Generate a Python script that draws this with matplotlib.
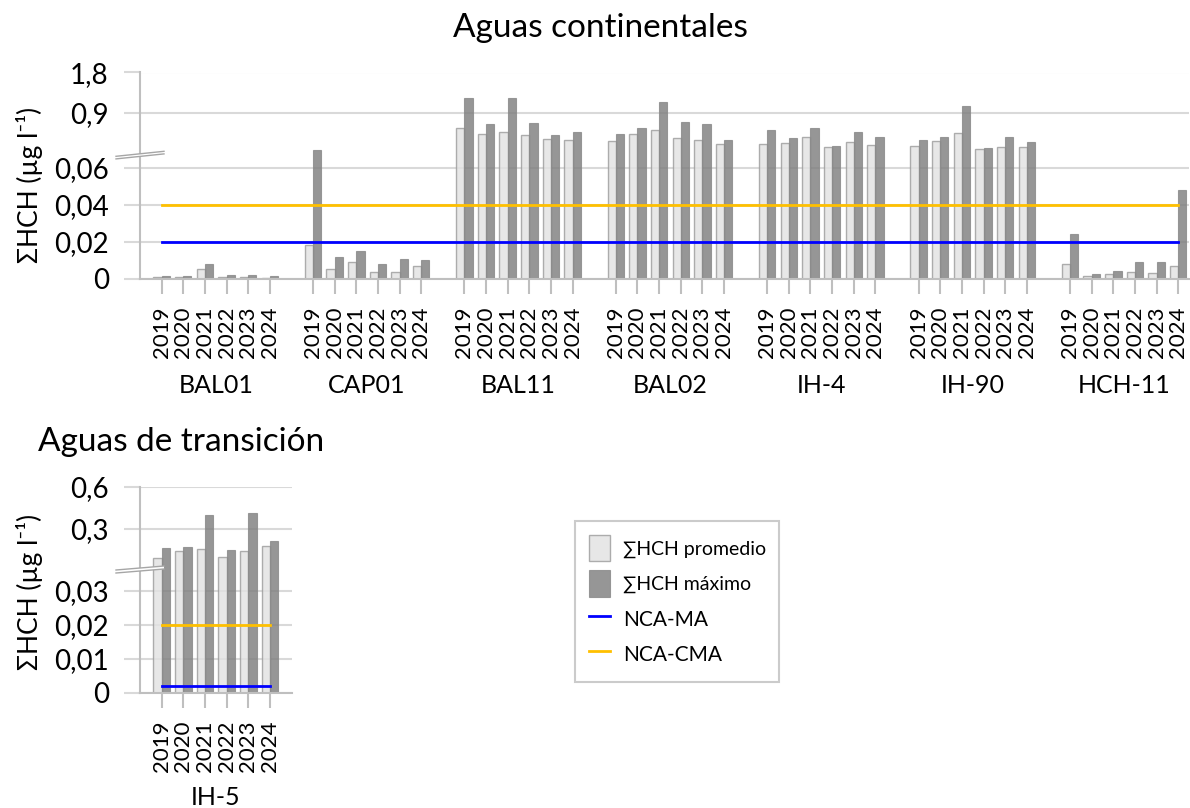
import numpy as np
import matplotlib
matplotlib.use('Agg')
import matplotlib.pyplot as plt
from matplotlib.patches import Patch, Polygon
from matplotlib.lines import Line2D

plt.rcParams['font.family'] = ['Lato', 'DejaVu Sans']

# ---------------- data ----------------
years = ['2019', '2020', '2021', '2022', '2023', '2024']

stations_cont = ['BAL01', 'CAP01', 'BAL11', 'BAL02', 'IH-4', 'IH-90', 'HCH-11']
prom_BAL01 = [0.0008, 0.0008, 0.0054, 0.0007, 0.0008, 0.0005]
max_BAL01 = [0.0015, 0.0015, 0.0078, 0.0018, 0.0018, 0.0015]
prom_CAP01 = [0.0182, 0.0050, 0.0090, 0.0034, 0.0035, 0.0068]
max_CAP01 = [0.0695, 0.0115, 0.0148, 0.0076, 0.0108, 0.0101]
prom_BAL11 = [0.558, 0.431, 0.475, 0.402, 0.319, 0.297]
max_BAL11 = [1.228, 0.654, 1.228, 0.670, 0.402, 0.475]
prom_BAL02 = [0.268, 0.415, 0.513, 0.342, 0.283, 0.201]
max_BAL02 = [0.415, 0.549, 1.138, 0.699, 0.654, 0.283]
prom_IH4 = [0.208, 0.230, 0.357, 0.141, 0.246, 0.179]
max_IH4 = [0.513, 0.342, 0.565, 0.163, 0.475, 0.357]
prom_IH90 = [0.163, 0.275, 0.446, 0.080, 0.134, 0.134]
max_IH90 = [0.290, 0.364, 1.049, 0.112, 0.364, 0.252]
prom_HCH11 = [0.0081, 0.0015, 0.0022, 0.0034, 0.0031, 0.0070]
max_HCH11 = [0.0242, 0.0023, 0.0041, 0.0090, 0.0092, 0.0480]

prom_cont = [prom_BAL01, prom_CAP01, prom_BAL11, prom_BAL02, prom_IH4, prom_IH90, prom_HCH11]
max_cont = [max_BAL01, max_CAP01, max_BAL11, max_BAL02, max_IH4, max_IH90, max_HCH11]
nca_ma_cont = 0.02
nca_cma_cont = 0.04
yticks_cont = [0, 0.02, 0.04, 0.06, 0.9, 1.8]
yticklabels_cont = ['0', '0,02', '0,04', '0,06', '0,9', '1,8']

stations_trans = ['IH-5']
prom_IH5 = [0.097, 0.144, 0.160, 0.104, 0.142, 0.177]
max_IH5 = [0.163, 0.175, 0.397, 0.151, 0.411, 0.213]
nca_ma_trans = 0.002
nca_cma_trans = 0.02
yticks_trans = [0, 0.01, 0.02, 0.03, 0.3, 0.6]
yticklabels_trans = ['0', '0,01', '0,02', '0,03', '0,3', '0,6']

# ---------------- style ----------------
W, H = 1190, 808
C_AVG = '#e2e2e2'
C_MAX = '#7f7f7f'
C_EDGE_AVG = '#9a9a9a'
C_EDGE_MAX = '#8a8a8a'
C_GRID = '#d9d9d9'
C_AXIS = '#bfbfbf'
C_BLUE = '#0000ff'
C_GOLD = '#ffc000'
BAR_W = 0.38


def make_break_scale(lower_slope, upper_slope, upper_offset):
    b = upper_offset / (lower_slope - upper_slope)
    tb = lower_slope * b

    def fwd(v):
        v = np.asarray(v, dtype=float)
        return np.where(v <= b, v * lower_slope, upper_offset + upper_slope * v)

    def inv(t):
        t = np.asarray(t, dtype=float)
        return np.where(t <= tb, t / lower_slope, (t - upper_offset) / upper_slope)
    return fwd, inv


def px_axes(left, top, right, bottom):
    return [left / W, 1 - bottom / H, (right - left) / W, (bottom - top) / H]


def style_axes(ax, ymax, yticks, yticklabels):
    ax.set_ylim(0, ymax)
    ax.set_yticks(yticks)
    ax.set_yticklabels(yticklabels)
    ax.yaxis.grid(True, color=C_GRID, lw=1.5, zorder=0)
    ax.set_axisbelow(True)
    for s in ['top', 'right']:
        ax.spines[s].set_visible(False)
    for s in ['left', 'bottom']:
        ax.spines[s].set_color(C_AXIS)
        ax.spines[s].set_linewidth(1.5)
    ax.tick_params(axis='y', length=11.5, width=1.5, color=C_GRID, pad=11, labelsize=20)
    ax.tick_params(axis='x', length=11, width=1.5, color=C_AXIS, pad=9, labelsize=16,
                   labelrotation=90)


def draw_break(fig, x0, y0, x1, y1, gap):
    pts = [(x0, y0), (x1, y1), (x1, y1 + gap), (x0, y0 + gap)]
    fpts = [(x / W, 1 - y / H) for x, y in pts]
    fig.patches.append(Polygon(fpts, closed=True, transform=fig.transFigure,
                               facecolor='white', edgecolor='none', zorder=10))
    for (xa, ya), (xb, yb) in [(pts[0], pts[1]), (pts[3], pts[2])]:
        fig.lines.append(Line2D([xa / W, xb / W], [1 - ya / H, 1 - yb / H],
                                transform=fig.transFigure, color='#a6a6a6', lw=1.0, zorder=11))


fig = plt.figure(figsize=(W / 100, H / 100), dpi=100)

# ---------------- top panel ----------------
ax1 = fig.add_axes(px_axes(140, 72.5, 1189, 278.5))
fwd1, inv1 = make_break_scale(1850, 44.8, 125.7)
ax1.set_yscale('function', functions=(fwd1, inv1))

slot_x = []
for g, st in enumerate(stations_cont):
    xs = np.arange(len(years)) + 7 * g
    slot_x.extend(xs)
    ax1.bar(xs - BAR_W / 2, prom_cont[g], width=BAR_W, color=C_AVG, alpha=0.8,
            edgecolor=C_EDGE_AVG, linewidth=1.0, zorder=2)
    ax1.bar(xs + BAR_W / 2, max_cont[g], width=BAR_W, color=C_MAX, alpha=0.82,
            edgecolor=C_EDGE_MAX, linewidth=0.8, zorder=2)
slot_x = np.array(slot_x)
ax1.plot([slot_x[0], slot_x[-1]], [nca_ma_cont] * 2, color=C_BLUE, lw=2, zorder=4)
ax1.plot([slot_x[0], slot_x[-1]], [nca_cma_cont] * 2, color=C_GOLD, lw=2, zorder=4)
style_axes(ax1, 1.8, yticks_cont, yticklabels_cont)
ax1.set_xlim(-1, 47.5)
ax1.set_xticks(slot_x)
ax1.set_xticklabels(years * len(stations_cont))
for g, st in enumerate(stations_cont):
    ax1.text(7 * g + 2.5, -107 / 206, st, transform=ax1.get_xaxis_transform(),
             ha='center', va='center', fontsize=18)

fig.text(600 / W, 1 - 28 / H, 'Aguas continentales', ha='center', va='center', fontsize=24)
fig.text(30 / W, 1 - 185 / H, 'ΣHCH (µg l⁻¹)', rotation=90, ha='center', va='center',
         fontsize=19)
draw_break(fig, 116, 156.3, 164, 151.3, 2.6)

# ---------------- bottom panel ----------------
ax2 = fig.add_axes(px_axes(140, 486.7, 291.7, 692.7))
fwd2, inv2 = make_break_scale(3400, 141, 121.4)
ax2.set_yscale('function', functions=(fwd2, inv2))
xs2 = np.arange(len(years))
ax2.bar(xs2 - BAR_W / 2, prom_IH5, width=BAR_W, color=C_AVG, alpha=0.8,
        edgecolor=C_EDGE_AVG, linewidth=1.0, zorder=2)
ax2.bar(xs2 + BAR_W / 2, max_IH5, width=BAR_W, color=C_MAX, alpha=0.82,
        edgecolor=C_EDGE_MAX, linewidth=0.8, zorder=2)
ax2.plot([xs2[0], xs2[-1]], [nca_ma_trans] * 2, color=C_BLUE, lw=2, zorder=4)
ax2.plot([xs2[0], xs2[-1]], [nca_cma_trans] * 2, color=C_GOLD, lw=2, zorder=4)
style_axes(ax2, 0.6, yticks_trans, yticklabels_trans)
ax2.set_xlim(-1, 6)
ax2.set_xticks(xs2)
ax2.set_xticklabels(years)
ax2.text(2.5, -105 / 206, stations_trans[0], transform=ax2.get_xaxis_transform(),
         ha='center', va='center', fontsize=18)

fig.text(38 / W, 1 - 442 / H, 'Aguas de transición', ha='left', va='center', fontsize=24)
fig.text(30 / W, 1 - 592 / H, 'ΣHCH (µg l⁻¹)', rotation=90, ha='center', va='center',
         fontsize=19)
draw_break(fig, 116, 570.0, 164, 566.0, 3.0)

# ---------------- legend ----------------
handles = [
    Patch(facecolor=C_AVG, alpha=0.8, edgecolor=C_EDGE_AVG, linewidth=1.0),
    Patch(facecolor=C_MAX, alpha=0.82, edgecolor=C_EDGE_MAX, linewidth=0.8),
    Line2D([], [], color=C_BLUE, lw=2),
    Line2D([], [], color=C_GOLD, lw=2),
]
labels = ['∑HCH promedio', '∑HCH máximo', 'NCA-MA', 'NCA-CMA']
leg = fig.legend(handles, labels, loc='upper left', bbox_to_anchor=(575 / W, 1 - 521 / H),
                 bbox_transform=fig.transFigure, borderaxespad=0, fontsize=14,
                 handlelength=1.1, handleheight=1.75, handletextpad=0.65, labelspacing=0.45,
                 borderpad=0.7, fancybox=False, frameon=True)
leg.get_frame().set_edgecolor(C_AXIS)
leg.get_frame().set_linewidth(1.5)
for t in leg.get_texts()[2:]:
    t.set_fontsize(15)

fig.savefig('out.png', dpi=100)
